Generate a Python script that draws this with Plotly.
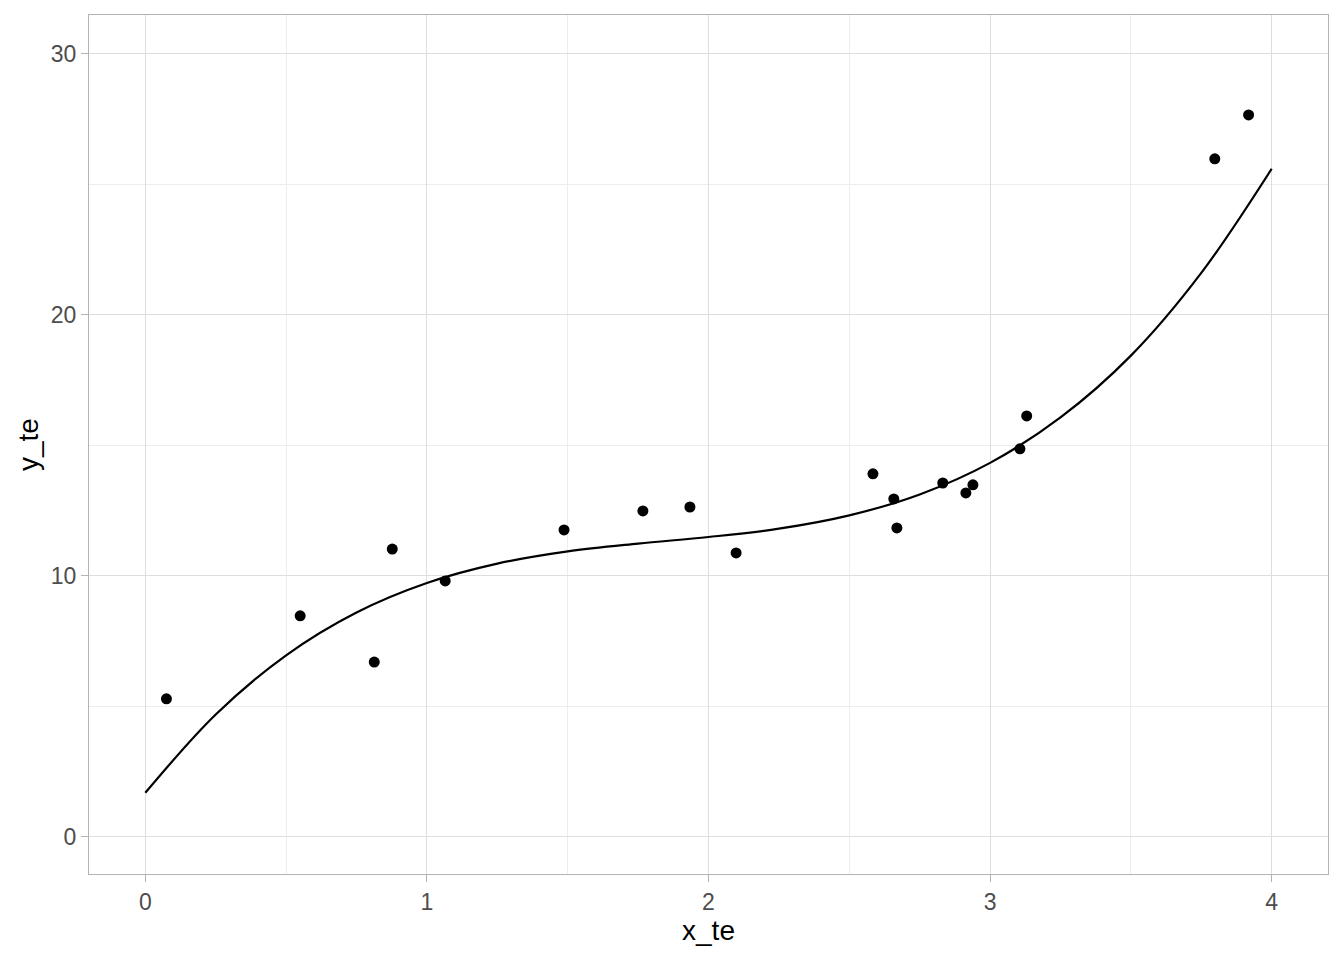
import plotly.graph_objects as go

# observed points
x_te = [0.075, 0.550, 0.813, 0.877, 1.065, 1.487, 1.767, 1.934, 2.098, 2.584,
        2.658, 2.669, 2.832, 2.914, 2.939, 3.106, 3.130, 3.798, 3.918]
y_te = [5.29, 8.47, 6.70, 11.03, 9.81, 11.76, 12.49, 12.64, 10.88, 13.91,
        12.95, 11.84, 13.56, 13.18, 13.49, 14.87, 16.13, 25.98, 27.66]

# fitted curve
curve_x = [0, 0.25, 0.5, 0.75, 1.0, 1.25, 1.5, 1.75, 2.0, 2.25, 2.5, 2.75,
           3.0, 3.25, 3.5, 3.75, 4.0]
curve_y = [1.69, 4.69, 6.96, 8.60, 9.73, 10.47, 10.94, 11.24, 11.49, 11.81,
           12.32, 13.12, 14.33, 16.07, 18.44, 21.61, 25.60]

fig = go.Figure()

fig.add_trace(go.Scatter(x=curve_x, y=curve_y, mode='lines', line_shape='spline',
                         line=dict(color='black', width=2.2), showlegend=False,
                         hoverinfo='skip'))
fig.add_trace(go.Scatter(x=x_te, y=y_te, mode='markers',
                         marker=dict(color='black', size=11), showlegend=False))

axis_common = dict(
    showgrid=True, gridcolor='#dedede', gridwidth=1.3,
    zeroline=False, showline=True, linecolor='#b3b3b3', linewidth=1.3, mirror=True,
    ticks='outside', ticklen=7, tickcolor='#b3b3b3', tickwidth=1.3,
    tickfont=dict(family='Liberation Sans, Arial, sans-serif', size=23, color='#4d4d4d'),
    title_font=dict(family='Liberation Sans, Arial, sans-serif', size=28, color='black'),
)

# page body has an 8px margin, so the figure is sized to fit inside it
fig.update_layout(
    width=1328, height=944,
    plot_bgcolor='white', paper_bgcolor='white',
    margin=dict(l=81, r=8, t=7, b=78),
    xaxis=dict(range=[-0.2, 4.2], dtick=1, tick0=0, title='x_te', title_standoff=6,
               minor=dict(dtick=0.5, showgrid=True, gridcolor='#ededed', gridwidth=0.8),
               **axis_common),
    yaxis=dict(range=[-1.42, 31.49], dtick=10, tick0=0, title='y_te', title_standoff=3,
               minor=dict(dtick=5, showgrid=True, gridcolor='#ededed', gridwidth=0.8),
               **axis_common),
)

fig.write_html("out.html")
